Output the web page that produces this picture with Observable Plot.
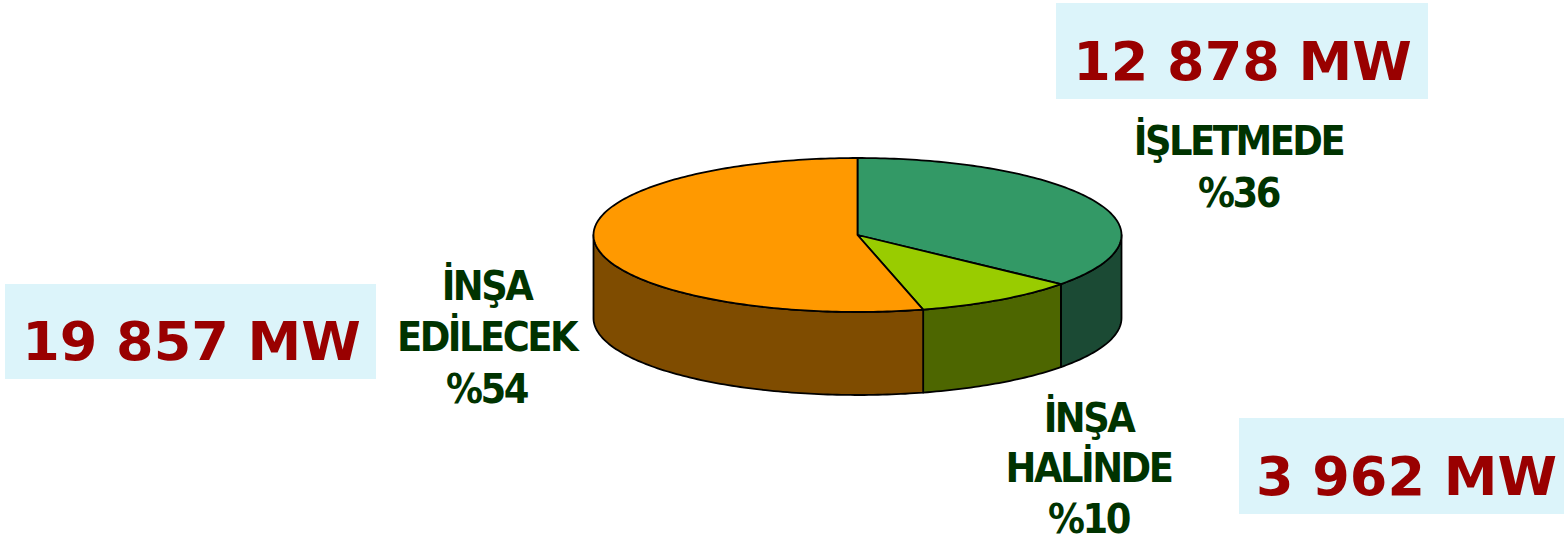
<!DOCTYPE html>
<html><head><meta charset="utf-8">
<script src="https://cdn.jsdelivr.net/npm/d3@7"></script>
<script src="https://cdn.jsdelivr.net/npm/@observablehq/plot@0.6"></script>
<style>
html,body{margin:0;padding:0;background:#fff}
.lbl text{letter-spacing:-2.5px;font-stretch:condensed}
</style>
</head><body><div id="chart"></div>
<script>
// ---- data ----
const categories = ["İŞLETMEDE", "İNŞA HALİNDE", "İNŞA EDİLECEK"];
const capacityMW = [12878, 3962, 19857];
const sharePct = [36, 10, 54];
const labelLines = [["İŞLETMEDE"], ["İNŞA", "HALİNDE"], ["İNŞA", "EDİLECEK"]];

// ---- styles ----
const topColors = ["#339966", "#99cc00", "#ff9900"];
const sideColors = ["#1b4a34", "#4d6600", "#7f4c00"];
const boxFill = "#dcf4fa";
const mwColor = "#990000";
const labelColor = "#003300";

// ---- layout (pixels) ----
const W = 1564, H = 543;
const pie = {cx: 857, cy: 234.5, rx: 264, ry: 77, depth: 83};
const boxLayout = [
  {x1: 1056, x2: 1428, y1: 3, y2: 99, tx: 1242, ty: 79},
  {x1: 1239, x2: 1564, y1: 418, y2: 514, tx: 1406, ty: 494},
  {x1: 5, x2: 376, y1: 284, y2: 379, tx: 191, ty: 359}
];
const labelLayout = [
  {x: 1238, y: 206, lh: 1.25},
  {x: 1088, y: 532, lh: 1.22},
  {x: 486, y: 402, lh: 1.25}
];

// ---- geometry derived from data ----
const total = d3.sum(sharePct);
let acc = 0;
const slices = categories.map((c, i) => {
  const a0 = acc / total * 2 * Math.PI;
  acc += sharePct[i];
  const a1 = acc / total * 2 * Math.PI;
  return {i, a0, a1};
});
const pt = (a, dy = 0) => ({x: pie.cx + pie.rx * Math.sin(a), y: pie.cy - pie.ry * Math.cos(a) + dy});
const arc = (a0, a1, dy = 0) => {
  const n = Math.max(2, Math.ceil((a1 - a0) / (Math.PI / 180)));
  return d3.range(n + 1).map(k => pt(a0 + (a1 - a0) * k / n, dy));
};
const polys = [];
slices.forEach(s => {
  const lo = Math.max(s.a0, Math.PI / 2), hi = Math.min(s.a1, 3 * Math.PI / 2);
  if (hi > lo) polys.push({fill: sideColors[s.i], pts: [...arc(lo, hi), ...arc(lo, hi, pie.depth).reverse()]});
});
slices.forEach(s => polys.push({fill: topColors[s.i], pts: [{x: pie.cx, y: pie.cy}, ...arc(s.a0, s.a1)]}));

const fmt = d3.formatLocale({thousands: " ", grouping: [3], decimal: ",", currency: ["", ""]}).format(",d");
const boxes = categories.map((c, i) => ({...boxLayout[i], text: fmt(capacityMW[i]) + " MW"}));
const labels = categories.map((c, i) => ({...labelLayout[i], text: [...labelLines[i], "%" + sharePct[i]].join("\n")}));

const chart = Plot.plot({
  width: W, height: H, margin: 0,
  style: {fontFamily: "'DejaVu Sans', sans-serif", background: "#fff"},
  x: {domain: [0, W], range: [0, W], axis: null},
  y: {domain: [0, H], range: [0, H], axis: null},
  marks: [
    ...polys.map(p => Plot.line(p.pts, {x: "x", y: "y", curve: "linear-closed", fill: p.fill, stroke: "#000", strokeWidth: 1.8, strokeLinejoin: "round"})),
    Plot.rect(boxes, {x1: "x1", x2: "x2", y1: "y1", y2: "y2", fill: boxFill}),
    Plot.text(boxes, {x: "tx", y: "ty", text: "text", lineAnchor: "bottom", textAnchor: "middle", fontSize: 54, fontWeight: "bold", fill: mwColor}),
    ...labels.map(l => Plot.text([l], {x: "x", y: "y", text: "text", lineAnchor: "bottom", textAnchor: "middle", fontSize: 41, fontWeight: "bold", fontFamily: "'DejaVu Sans Condensed', 'DejaVu Sans', sans-serif", fill: labelColor, lineHeight: l.lh, className: "lbl"}))
  ]
});
document.getElementById("chart").appendChild(chart);
</script>
</body></html>
